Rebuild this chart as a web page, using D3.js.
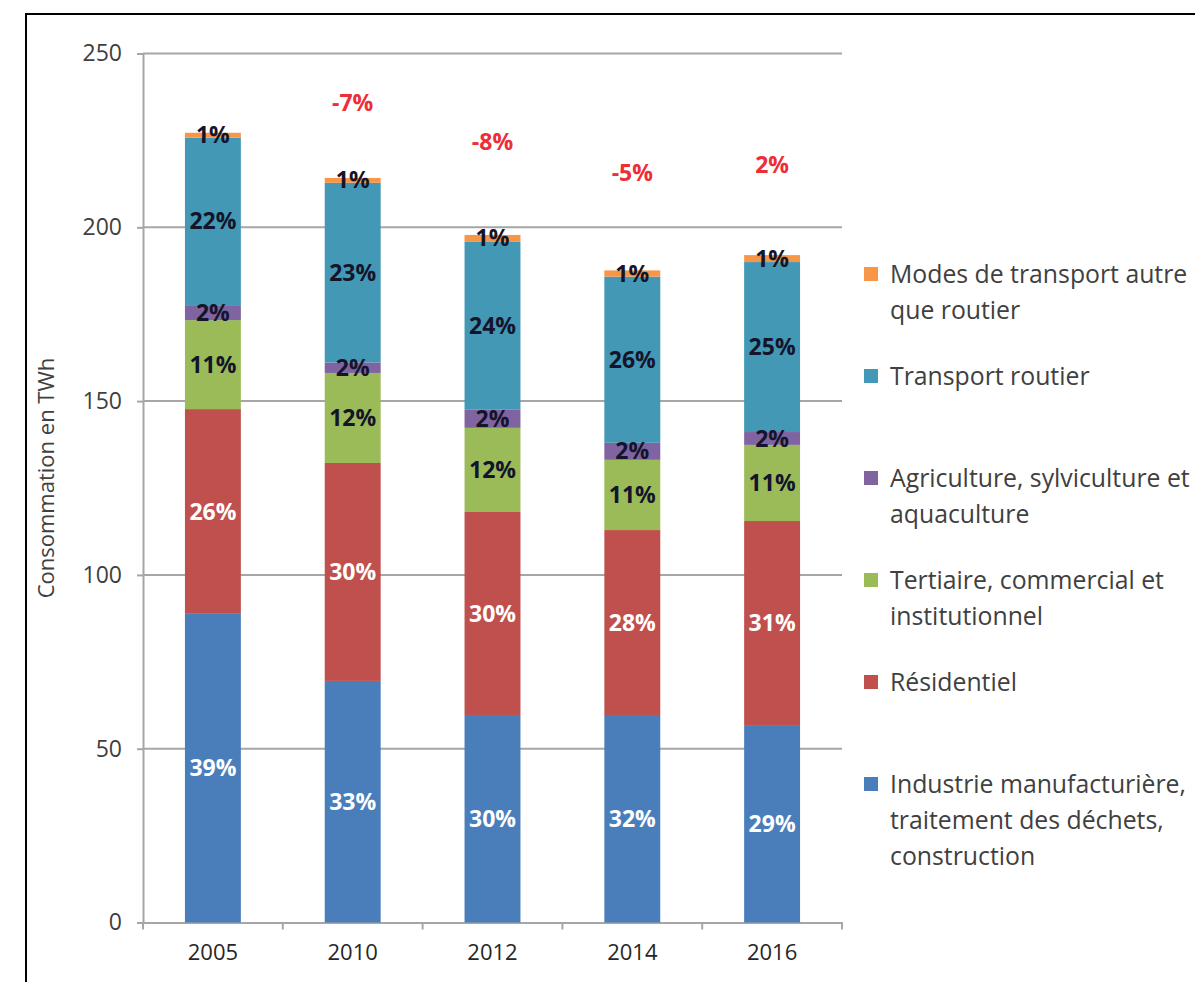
<!DOCTYPE html>
<html>
<head>
<meta charset="utf-8">
<script src="https://cdn.jsdelivr.net/npm/d3@7"></script>
<style>
  html, body { margin: 0; padding: 0; background: #fff; }
  svg { display: block; font-family: "Open Sans", "DejaVu Sans", sans-serif; }
</style>
</head>
<body>
<svg id="chart" width="1195" height="982"></svg>
<script>
// ---- Data ----
const years = ["2005", "2010", "2012", "2014", "2016"];

// Series, bottom of the stack to top (TWh)
const industrie   = [88.8, 69.5, 59.7, 59.7, 56.8];
const residentiel = [58.9, 62.7, 58.4, 53.2, 58.7];
const tertiaire   = [25.6, 25.9, 24.2, 20.2, 21.9];
const agriculture = [4.3, 3.0, 5.2, 4.9, 3.7];
const routier     = [48.2, 51.7, 48.3, 47.8, 48.9];
const autres      = [1.4, 1.4, 2.0, 1.8, 2.0];

// Percent labels shown inside each segment
const pctIndustrie   = ["39%", "33%", "30%", "32%", "29%"];
const pctResidentiel = ["26%", "30%", "30%", "28%", "31%"];
const pctTertiaire   = ["11%", "12%", "12%", "11%", "11%"];
const pctAgriculture = ["2%", "2%", "2%", "2%", "2%"];
const pctRoutier     = ["22%", "23%", "24%", "26%", "25%"];
const pctAutres      = ["1%", "1%", "1%", "1%", "1%"];

// Evolution labels above bars and the level (TWh) where they sit
const changeLabels = ["", "-7%", "-8%", "-5%", "2%"];
const changeLevel  = [null, 235.8, 224.6, 215.6, 218.0];

const yTicks = [0, 50, 100, 150, 200, 250];
const yTitle = "Consommation en TWh";

const seriesKeys = ["industrie", "residentiel", "tertiaire", "agriculture", "routier", "autres"];
const seriesValues = [industrie, residentiel, tertiaire, agriculture, routier, autres];
const seriesPct = [pctIndustrie, pctResidentiel, pctTertiaire, pctAgriculture, pctRoutier, pctAutres];
const seriesColors = ["#4a7ebb", "#c0504d", "#9bbb59", "#8064a2", "#4298b5", "#f79646"];
const labelColors = ["#ffffff", "#ffffff", "#14142a", "#14142a", "#14142a", "#14142a"];
const legendLabels = [
  ["Industrie manufacturière,", "traitement des déchets,", "construction"],
  ["Résidentiel"],
  ["Tertiaire, commercial et", "institutionnel"],
  ["Agriculture, sylviculture et", "aquaculture"],
  ["Transport routier"],
  ["Modes de transport autre", "que routier"]
];

const FONT = '"Open Sans", "DejaVu Sans", sans-serif';

// ---- Build table for the stack ----
const table = years.map((yr, i) => {
  const row = { year: yr };
  seriesKeys.forEach((k, s) => row[k] = seriesValues[s][i]);
  return row;
});
const stacked = d3.stack().keys(seriesKeys)(table);

// ---- Layout ----
const svg = d3.select("#chart");
const plot = { left: 143, right: 842, top: 53.5, bottom: 922.5 };

// outer frame
svg.append("rect")
  .attr("x", 26).attr("y", 14)
  .attr("width", 1300).attr("height", 1100)
  .attr("fill", "none").attr("stroke", "#000").attr("stroke-width", 2);

const x = d3.scaleBand()
  .domain(years)
  .range([plot.left, plot.right])
  .paddingInner(0.6)
  .paddingOuter(0.3);

const y = d3.scaleLinear()
  .domain([0, 250])
  .range([plot.bottom, plot.top]);

// gridlines + y axis
const yAxis = d3.axisLeft(y)
  .tickValues(yTicks)
  .tickSize(6)
  .tickPadding(15)
  .tickFormat(d3.format("d"));

const gy = svg.append("g")
  .attr("transform", `translate(${plot.left},0)`)
  .call(yAxis)
  .attr("font-family", FONT);
gy.select(".domain").attr("stroke", "#a6a6a6").attr("stroke-width", 2);
gy.selectAll(".tick line").attr("stroke", "#a6a6a6").attr("stroke-width", 2);
gy.selectAll(".tick text")
  .attr("fill", "#404040")
  .style("font-size", "23px");

svg.append("g")
  .selectAll("line")
  .data(yTicks.filter(d => d > 0))
  .join("line")
  .attr("x1", plot.left).attr("x2", plot.right)
  .attr("y1", d => y(d)).attr("y2", d => y(d))
  .attr("stroke", "#a6a6a6").attr("stroke-width", 2);

// x axis
const gx = svg.append("g")
  .attr("transform", `translate(0,${plot.bottom})`)
  .call(d3.axisBottom(x).tickSize(0).tickPadding(22))
  .attr("font-family", FONT);
gx.select(".domain").attr("stroke", "#a6a6a6").attr("stroke-width", 2);
gx.selectAll(".tick text")
  .attr("fill", "#262626")
  .style("font-size", "22px");

// category boundary ticks
const boundaries = d3.range(years.length + 1).map(i => plot.left + i * (plot.right - plot.left) / years.length);
svg.append("g")
  .selectAll("line")
  .data(boundaries)
  .join("line")
  .attr("x1", d => d).attr("x2", d => d)
  .attr("y1", plot.bottom).attr("y2", plot.bottom + 7)
  .attr("stroke", "#a6a6a6").attr("stroke-width", 2);

// y title
svg.append("text")
  .attr("transform", `translate(54,${(plot.top + plot.bottom) / 2 - 10}) rotate(-90)`)
  .attr("text-anchor", "middle")
  .attr("fill", "#404040")
  .style("font-size", "22px")
  .text(yTitle);

// bars
const layers = svg.append("g")
  .selectAll("g")
  .data(stacked)
  .join("g")
  .attr("fill", (d, i) => seriesColors[i]);

layers.selectAll("rect")
  .data(d => d)
  .join("rect")
  .attr("x", d => x(d.data.year))
  .attr("width", x.bandwidth())
  .attr("y", d => y(d[1]))
  .attr("height", d => y(d[0]) - y(d[1]));

// segment labels
stacked.forEach((layer, s) => {
  svg.append("g")
    .selectAll("text")
    .data(layer)
    .join("text")
    .attr("x", d => x(d.data.year) + x.bandwidth() / 2)
    .attr("y", d => y((d[0] + d[1]) / 2))
    .attr("dy", "0.35em")
    .attr("text-anchor", "middle")
    .attr("fill", labelColors[s])
    .style("font-size", "23px")
    .style("font-weight", "700")
    .text((d, i) => seriesPct[s][i]);
});

// change labels
svg.append("g")
  .selectAll("text")
  .data(years.map((yr, i) => ({ yr, label: changeLabels[i], level: changeLevel[i] })).filter(d => d.label))
  .join("text")
  .attr("x", d => x(d.yr) + x.bandwidth() / 2)
  .attr("y", d => y(d.level))
  .attr("dy", "0.35em")
  .attr("text-anchor", "middle")
  .attr("fill", "#ee2d36")
  .style("font-size", "23px")
  .style("font-weight", "700")
  .text(d => d.label);

// legend (top entry = last series)
const legendOrder = d3.range(seriesKeys.length).reverse();
const legendY = d3.scaleLinear().domain([0, 5]).range([274, 784]);
const legendLineH = 36;
const lg = svg.append("g");
legendOrder.forEach((s, row) => {
  const y0 = legendY(row);
  lg.append("rect")
    .attr("x", 864).attr("y", y0 - 7)
    .attr("width", 14).attr("height", 14)
    .attr("fill", seriesColors[s]);
  legendLabels[s].forEach((line, li) => {
    lg.append("text")
      .attr("x", 890)
      .attr("y", y0 + li * legendLineH)
      .attr("dy", "0.35em")
      .attr("fill", "#404040")
      .style("font-size", "24.8px")
      .text(line);
  });
});
</script>
</body>
</html>
